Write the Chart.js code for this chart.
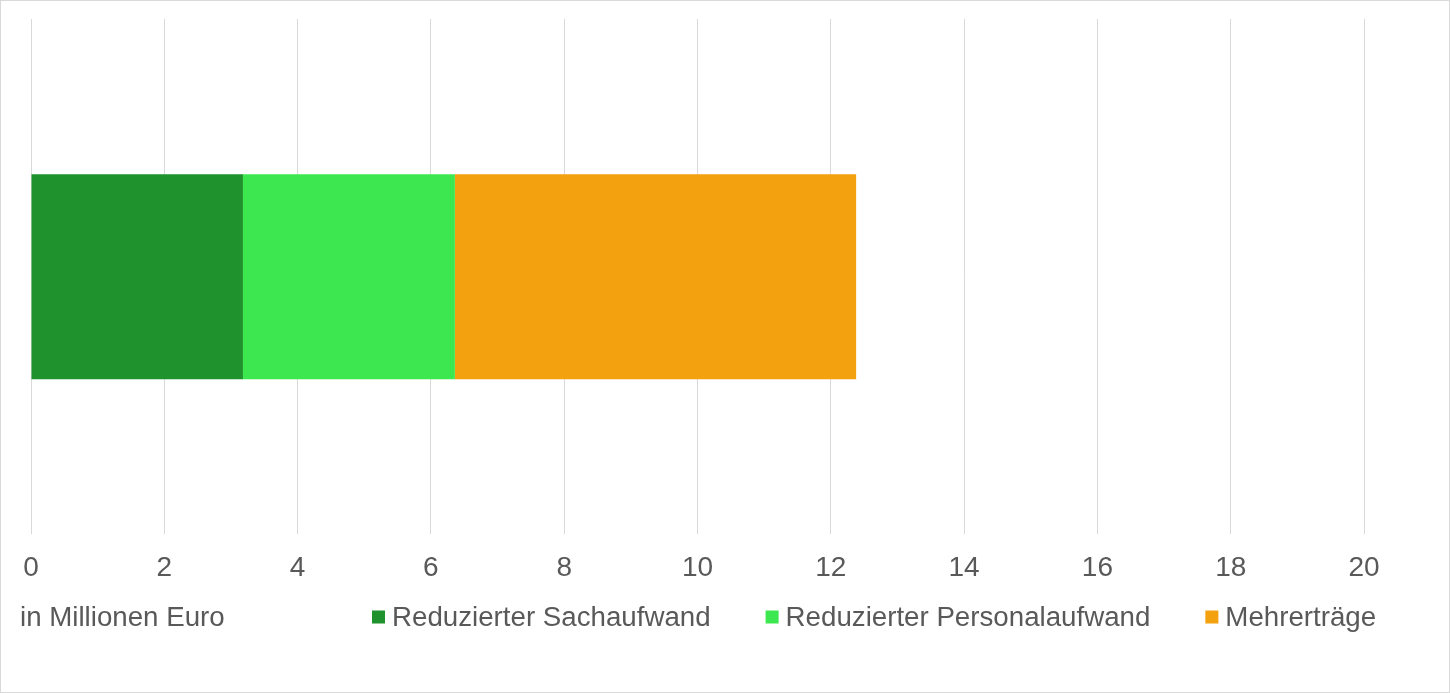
<!DOCTYPE html>
<html lang="de">
<head>
  <meta charset="UTF-8">
  <title>Einsparungen und Mehrerträge</title>
  <style>
    body {
      margin: 0;
      background-color: #ffffff;
    }

    #chart-container {
      width: 1450px;
      height: 693px;
    }
  </style>
</head>
<body>
  <div id="chart-container">
    <canvas id="savingsChart"></canvas>
  </div>

  <script src="https://cdn.jsdelivr.net/npm/chart.js"></script>
  <script>
    // values (million euro)
    const categories = [''];
    const seriesNames = ['Reduzierter Sachaufwand', 'Reduzierter Personalaufwand', 'Mehrerträge'];
    const sachaufwand = [3.18];
    const personalaufwand = [3.18];
    const mehrertraege = [6.02];
    const seriesColors = ['#1f922d', '#3de74f', '#f3a10f'];
    const unitLabel = 'in Millionen Euro';

    const fontFamily = '"Liberation Sans", Arial, sans-serif';
    const textColor = '#595959';
    const fontSize = 27.7;

    // white background and thin frame round the whole picture
    const framePlugin = {
      id: 'frame',
      beforeDraw(chart) {
        const c = chart.ctx;
        c.save();
        c.fillStyle = '#ffffff';
        c.fillRect(0, 0, chart.width, chart.height);
        c.strokeStyle = '#d9d9d9';
        c.lineWidth = 1;
        c.strokeRect(0.5, 0.5, chart.width - 1, chart.height - 1);
        c.restore();
      }
    };

    // unit label on the left, legend in one row to the right of it
    const footerPlugin = {
      id: 'footer',
      afterDraw(chart) {
        const c = chart.ctx;
        const y = 618;
        c.save();
        c.font = fontSize + 'px ' + fontFamily;
        c.fillStyle = textColor;
        c.textBaseline = 'middle';
        c.textAlign = 'left';
        c.fillText(unitLabel, 20, y);

        let x = 372;
        const box = 13;
        chart.data.datasets.forEach(ds => {
          c.fillStyle = ds.backgroundColor;
          c.fillRect(x, y - box / 2 - 1, box, box);
          x += box + 7;
          c.fillStyle = textColor;
          c.fillText(ds.label, x, y);
          x += c.measureText(ds.label).width + 55;
        });
        c.restore();
      }
    };

    const data = {
      labels: categories,
      datasets: [
        { label: seriesNames[0], data: sachaufwand, backgroundColor: seriesColors[0] },
        { label: seriesNames[1], data: personalaufwand, backgroundColor: seriesColors[1] },
        { label: seriesNames[2], data: mehrertraege, backgroundColor: seriesColors[2] }
      ].map(ds => Object.assign(ds, { borderWidth: 0, barPercentage: 0.398, categoryPercentage: 1 }))
    };

    const config = {
      type: 'bar',
      data: data,
      options: {
        indexAxis: 'y',
        responsive: true,
        maintainAspectRatio: false,
        animation: false,
        layout: {
          padding: { left: 31, right: 86, top: 19, bottom: 91 }
        },
        scales: {
          x: {
            stacked: true,
            min: 0,
            max: 20,
            ticks: {
              stepSize: 2,
              color: textColor,
              padding: 17,
              font: { family: fontFamily, size: 28 }
            },
            grid: {
              color: '#d9d9d9',
              drawTicks: false
            },
            border: { display: false }
          },
          y: {
            stacked: true,
            display: false
          }
        },
        plugins: {
          legend: { display: false },
          tooltip: { enabled: false }
        }
      },
      plugins: [framePlugin, footerPlugin]
    };

    const chart = new Chart(document.getElementById('savingsChart').getContext('2d'), config);
  </script>
</body>
</html>
